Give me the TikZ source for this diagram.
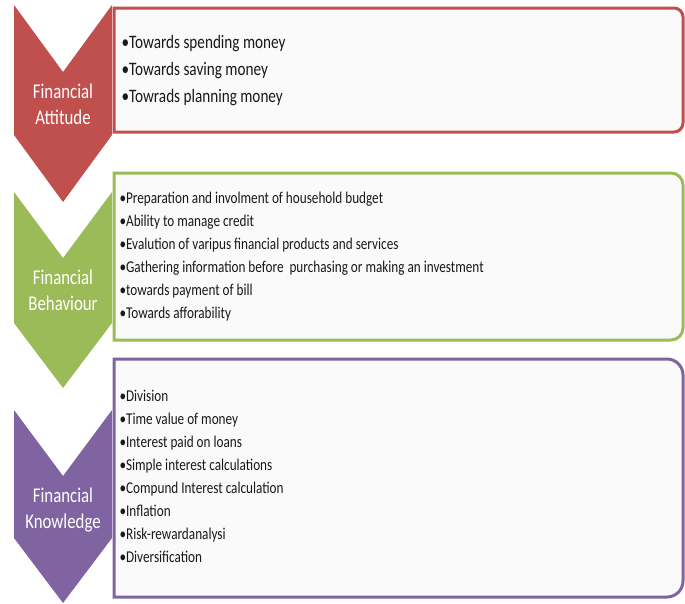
\documentclass[tikz,border=0pt]{standalone}
\usepackage{fontspec}
\setmainfont{Carlito}[FakeStretch=0.8]
\usepackage{tikz}
\usetikzlibrary{calc}
\usetikzlibrary{positioning}
\definecolor{attred}{HTML}{C0504D}
\definecolor{behgreen}{HTML}{9BBB59}
\definecolor{knowpurple}{HTML}{8064A2}
\definecolor{boxfill}{HTML}{FAFAFA}
\tikzstyle{chev} = [draw=none]
\tikzstyle{lab} = [text=white, align=center, font=\fontsize{21}{26}\selectfont]
\tikzstyle{bigitems} = [anchor=west, align=left, text=black!90, font=\fontsize{19}{27}\selectfont]
\tikzstyle{items} = [anchor=west, align=left, text=black!90, font=\fontsize{16.5}{23}\selectfont]
\tikzstyle{panel} = [line width=3pt, fill=boxfill]

\begin{document}
\begin{tikzpicture}[x=1pt, y=-1pt]
    \useasboundingbox (0,0) rectangle (685,603);

    \fill [chev, attred] (14,5) -- (63,72) -- (112,5) -- (112,135) -- (63,202) -- (14,135) -- cycle; %% attitude chevron
    \fill [chev, behgreen] (14,192) -- (63,258) -- (112,192) -- (112,323) -- (63,388) -- (14,323) -- cycle; %% behaviour chevron
    \fill [chev, knowpurple] (14,410) -- (63,476) -- (112,410) -- (112,538) -- (63,603) -- (14,538) -- cycle; %% knowledge chevron

    \draw [panel, draw=attred] (114,8) -- (674,8) arc[start angle=90, end angle=0, radius=9pt] -- (683,123) arc[start angle=0, end angle=-90, radius=9pt] -- (114,132) -- cycle; %% attitude box
    \draw [panel, draw=behgreen] (114,173) -- (671,173) arc[start angle=90, end angle=0, radius=12pt] -- (683,328) arc[start angle=0, end angle=-90, radius=12pt] -- (114,340) -- cycle; %% behaviour box
    \draw [panel, draw=knowpurple] (114,359) -- (667,359) arc[start angle=90, end angle=0, radius=16pt] -- (683,581) arc[start angle=0, end angle=-90, radius=16pt] -- (114,597) -- cycle; %% knowledge box

    \node[lab] (attlab) at (63,104) {Financial\\Attitude};
    \node[lab] (behlab) at (63,290) {Financial\\Behaviour};
    \node[lab] (knowlab) at (63,510) {Financial\\Knowledge};

    \node[bigitems] (atttext) at (118,71) {•Towards spending money\\•Towards saving money\\•Towrads planning money};
    \node[items] (behtext) at (116,257) {•Preparation and involment of household budget\\•Ability to manage credit\\•Evalution of varipus financial products and services\\•Gathering information before\ \ purchasing or making an investment\\•towards payment of bill\\•Towards afforability};
    \node[items] (knowtext) at (116,476) {•Division\\•Time value of money\\•Interest paid on loans\\•Simple interest calculations\\•Compund Interest calculation\\•Inflation\\•Risk-rewardanalysi\\•Diversification};
\end{tikzpicture}
\end{document}
